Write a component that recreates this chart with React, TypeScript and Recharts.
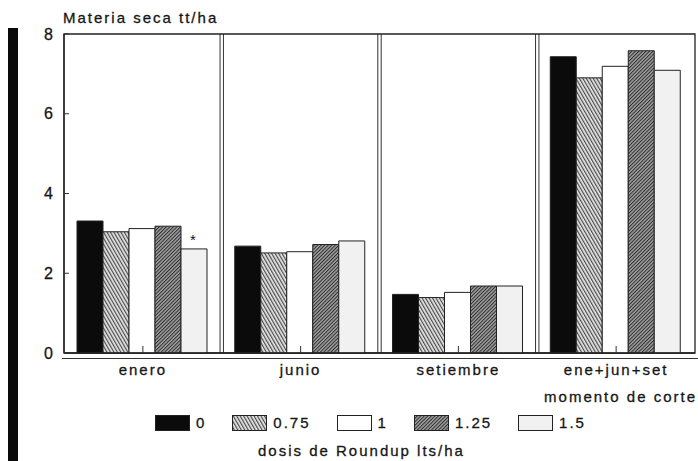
import { BarChart, Bar, XAxis, YAxis, CartesianGrid, ReferenceLine, ReferenceArea, LabelList } from 'recharts'

// momento de corte
const categories = ['enero', 'junio', 'setiembre', 'ene+jun+set']
// materia seca tt/ha por dosis de Roundup
const dosis0 = [3.31, 2.68, 1.47, 7.43]
const dosis075 = [3.04, 2.51, 1.39, 6.9]
const dosis1 = [3.12, 2.54, 1.52, 7.19]
const dosis125 = [3.18, 2.72, 1.68, 7.58]
const dosis15 = [2.61, 2.81, 1.68, 7.09]
const marcas15 = ['*', '', '', '']
const yTicks = [0, 2, 4, 6, 8]

const series = [
  { key: 'd0', name: '0', fill: '#0b0b0b' },
  { key: 'd075', name: '0.75', fill: 'url(#rayado)' },
  { key: 'd1', name: '1', fill: '#ffffff' },
  { key: 'd125', name: '1.25', fill: 'url(#rayadoDenso)' },
  { key: 'd15', name: '1.5', fill: '#f1f1f1' }
]

const data = categories.map((c, i) => ({
  name: c,
  d0: dosis0[i],
  d075: dosis075[i],
  d1: dosis1[i],
  d125: dosis125[i],
  d15: dosis15[i],
  m15: marcas15[i]
}))

const ink = '#161616'

// línea doble del eje x
const DoubleBase = (props: any) => {
  const { x1, x2, y1 } = props
  return <line x1={x1 - 2} x2={x2 + 3} y1={y1 + 5.5} y2={y1 + 5.5} stroke="#333" strokeWidth={1} />
}

const textStyle = { fontSize: 15, lineHeight: '16px', WebkitTextStroke: '0.3px #161616' }

const App = () => {
  return (
    <div
      style={{
        position: 'absolute',
        left: 0,
        top: 0,
        width: 698,
        height: 461,
        background: '#fff',
        fontFamily: '"Liberation Sans", Arial, sans-serif',
        letterSpacing: '2px',
        color: ink
      }}
    >
      {/* borde negro del escaneo */}
      <div style={{ position: 'absolute', left: 8, top: 28, width: 10, height: 433, background: '#0a0a0a' }} />
      <div style={{ position: 'absolute', left: 63, top: 10, ...textStyle }}>Materia seca tt/ha</div>
      <BarChart
        width={698}
        height={461}
        data={data}
        margin={{ top: 34, right: 3, left: 0, bottom: 78 }}
        barCategoryGap={13}
        barGap={0}
      >
        <defs>
          <pattern id="rayado" width="3" height="3" patternUnits="userSpaceOnUse" patternTransform="rotate(-30)">
            <rect width="3" height="3" fill="#e6e6e6" />
            <line x1="0.6" y1="0" x2="0.6" y2="3" stroke="#4a4a4a" strokeWidth="1.2" />
          </pattern>
          <pattern id="rayadoDenso" width="2.5" height="2.5" patternUnits="userSpaceOnUse" patternTransform="rotate(45)">
            <rect width="2.5" height="2.5" fill="#a2a2a2" />
            <line x1="0.5" y1="0" x2="0.5" y2="2.5" stroke="#2a2a2a" strokeWidth="1" />
          </pattern>
        </defs>
        <CartesianGrid
          horizontal={false}
          stroke="#333"
          strokeWidth={1}
          verticalCoordinatesGenerator={({ offset }: any) => {
            const step = offset.width / categories.length
            const xs: number[] = []
            for (let i = 1; i < categories.length; i++) {
              const x = offset.left + i * step
              xs.push(x - 1.7, x + 1.7)
            }
            return xs
          }}
        />
        <ReferenceArea y1={0} y2={8} fill="none" stroke="#222" strokeWidth={1.3} fillOpacity={0} />
        <XAxis
          dataKey="name"
          height={30}
          tickSize={-7}
          tickMargin={18}
          tickLine={{ stroke: '#333' }}
          axisLine={{ stroke: '#222', strokeWidth: 1.3 }}
          tick={{ fill: ink, fontSize: 15, stroke: ink, strokeWidth: 0.3 }}
          interval={0}
        />
        <YAxis
          width={64}
          domain={[0, 8]}
          ticks={yTicks}
          tickSize={-5}
          tickMargin={14}
          tickLine={{ stroke: '#333' }}
          axisLine={{ stroke: '#222', strokeWidth: 1.3 }}
          tick={{ fill: ink, fontSize: 16, stroke: ink, strokeWidth: 0.3 }}
        />
        <ReferenceLine y={0} stroke="none" shape={DoubleBase} ifOverflow="visible" />
        {series.map((s) => (
          <Bar
            key={s.key}
            dataKey={s.key}
            name={s.name}
            fill={s.fill}
            stroke="#222"
            strokeWidth={1}
            isAnimationActive={false}
          >
            {s.key === 'd15' && (
              <LabelList dataKey="m15" position="top" offset={4} fill={ink} fontSize={15} />
            )}
          </Bar>
        ))}
      </BarChart>
      <div style={{ position: 'absolute', right: 1, top: 389, ...textStyle }}>momento de corte</div>
      {/* leyenda */}
      <div style={{ position: 'absolute', left: 155, top: 415, display: 'flex', alignItems: 'center', ...textStyle }}>
        {series.map((s) => (
          <div key={s.key} style={{ display: 'flex', alignItems: 'center', marginRight: 26 }}>
            <svg width={35} height={16} style={{ display: 'block' }}>
              <rect x={0.5} y={0.5} width={34} height={15} fill={s.fill} stroke="#222" strokeWidth={1} />
            </svg>
            <span style={{ marginLeft: 6 }}>{s.name}</span>
          </div>
        ))}
      </div>
      <div style={{ position: 'absolute', left: 258, top: 443, ...textStyle }}>dosis de Roundup lts/ha</div>
    </div>
  )
}

export default App
